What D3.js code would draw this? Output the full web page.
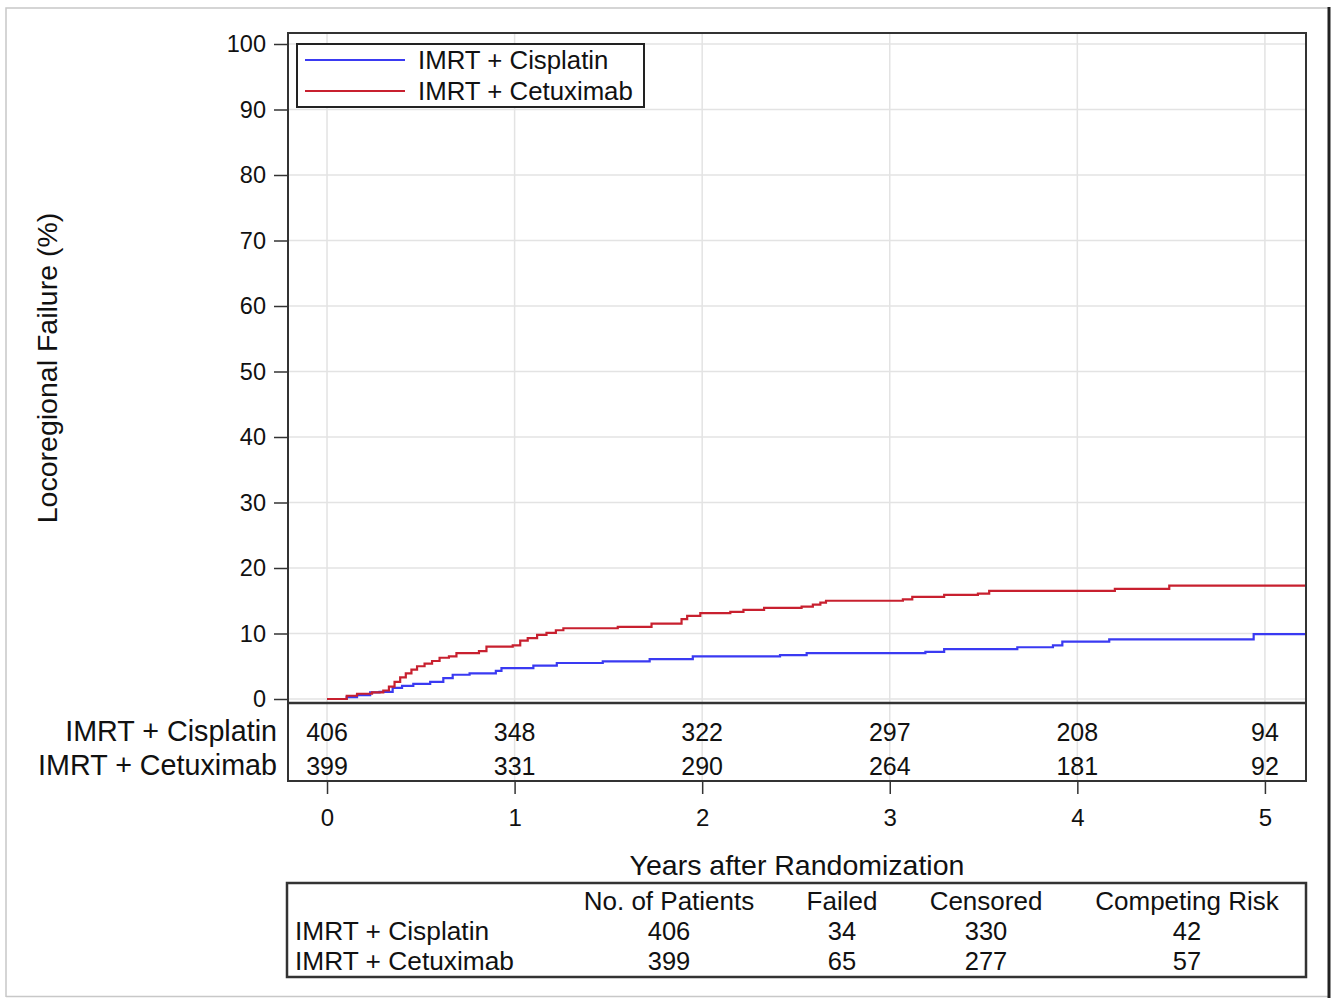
<!DOCTYPE html>
<html>
<head>
<meta charset="utf-8">
<script src="https://cdn.jsdelivr.net/npm/d3@7"></script>
<style>
  body { margin: 0; background: #fff; }
  svg text { font-family: "Liberation Sans", Arial, sans-serif; fill: #111; }
</style>
</head>
<body>
<div id="chart"></div>
<script>
// data
var groups = ["IMRT + Cisplatin", "IMRT + Cetuximab"];
var yearTicks = [0, 1, 2, 3, 4, 5];
var pctTicks = [0, 10, 20, 30, 40, 50, 60, 70, 80, 90, 100];

var cisTimes  = [0, 0.105, 0.16, 0.23, 0.28, 0.35, 0.40, 0.46, 0.55, 0.62, 0.67, 0.76, 0.90, 0.93, 1.10, 1.225, 1.47, 1.72, 1.95, 2.415, 2.557, 3.19, 3.29, 3.68, 3.87, 3.92, 4.17, 4.94, 5.22];
var cisValues = [0, 0.3, 0.6, 1.0, 1.1, 1.7, 2.0, 2.3, 2.6, 3.2, 3.7, 3.9, 4.3, 4.7, 5.1, 5.5, 5.75, 6.1, 6.5, 6.7, 7.0, 7.2, 7.6, 7.9, 8.2, 8.75, 9.1, 9.9, 9.9];

var cetTimes  = [0, 0.105, 0.16, 0.24, 0.30, 0.33, 0.36, 0.39, 0.42, 0.45, 0.48, 0.52, 0.56, 0.60, 0.65, 0.69, 0.81, 0.85, 0.99, 1.03, 1.07, 1.12, 1.17, 1.22, 1.26, 1.55, 1.73, 1.89, 1.92, 1.99, 2.15, 2.22, 2.33, 2.53, 2.59, 2.63, 2.66, 3.07, 3.12, 3.29, 3.47, 3.53, 4.20, 4.49, 5.22];
var cetValues = [0, 0.5, 0.8, 1.0, 1.3, 1.9, 2.6, 3.3, 3.9, 4.5, 5.0, 5.4, 5.8, 6.3, 6.5, 7.0, 7.3, 8.0, 8.2, 8.9, 9.3, 9.8, 10.1, 10.5, 10.8, 11.0, 11.5, 12.2, 12.7, 13.1, 13.3, 13.6, 13.9, 14.1, 14.4, 14.7, 15.0, 15.2, 15.6, 15.9, 16.1, 16.5, 16.8, 17.3, 17.3];

var cisAtRisk = [406, 348, 322, 297, 208, 94];
var cetAtRisk = [399, 331, 290, 264, 181, 92];

var summaryHeader = ["No. of Patients", "Failed", "Censored", "Competing Risk"];
var cisSummary = [406, 34, 330, 42];
var cetSummary = [399, 65, 277, 57];

var colors = ["#3a3af2", "#c8202f"];

var W = 1337, H = 998;
var plot = {left: 288, right: 1306, top: 33, bottom: 703},
    riskBottom = 781;

var svg = d3.select("#chart").append("svg")
    .attr("width", W)
    .attr("height", H);

// outer frame
svg.append("path")
    .attr("d", "M6,997 L6,8 L1328,8")
    .attr("fill", "none")
    .attr("stroke", "#c8c8c8")
    .attr("stroke-width", 1.5);
svg.append("line")
    .attr("x1", 6).attr("x2", 1328).attr("y1", 996.5).attr("y2", 996.5)
    .attr("stroke", "#c8c8c8").attr("stroke-width", 1.5);
svg.append("line")
    .attr("x1", 1329).attr("x2", 1329).attr("y1", 7).attr("y2", 998)
    .attr("stroke", "#222").attr("stroke-width", 3);

var x = d3.scaleLinear()
    .domain([-0.208, 5.219])
    .range([plot.left, plot.right]);

var y = d3.scaleLinear()
    .domain([0, 100])
    .range([699, 44]);

// grid
svg.append("g").selectAll("line")
    .data(pctTicks)
  .enter().append("line")
    .attr("x1", plot.left).attr("x2", plot.right)
    .attr("y1", function(d) { return y(d); })
    .attr("y2", function(d) { return y(d); })
    .attr("stroke", "#e3e3e3")
    .attr("stroke-width", 1.5);

svg.append("g").selectAll("line")
    .data(yearTicks)
  .enter().append("line")
    .attr("x1", function(d) { return x(d); })
    .attr("x2", function(d) { return x(d); })
    .attr("y1", plot.top).attr("y2", riskBottom)
    .attr("stroke", "#e3e3e3")
    .attr("stroke-width", 1.5);

// curves
var line = d3.line()
    .x(function(d) { return x(d[0]); })
    .y(function(d) { return y(d[1]); })
    .curve(d3.curveStepAfter);

var series = [d3.zip(cisTimes, cisValues), d3.zip(cetTimes, cetValues)];

svg.append("g").selectAll("path")
    .data(series)
  .enter().append("path")
    .attr("d", line)
    .attr("fill", "none")
    .attr("stroke", function(d, i) { return colors[i]; })
    .attr("stroke-width", 2.2);

// y axis
var yAxis = d3.axisLeft()
    .scale(y)
    .tickValues(pctTicks)
    .tickSize(14)
    .tickPadding(8);

var gy = svg.append("g")
    .attr("transform", "translate(" + plot.left + ",0)")
    .call(yAxis);
gy.select(".domain").remove();
gy.selectAll("line").attr("stroke", "#333").attr("stroke-width", 1.5);
gy.selectAll("text")
    .style("font-size", "23.5px")
    .style("font-family", "'Liberation Sans', Arial, sans-serif")
    .attr("fill", "#111");

svg.append("text")
    .attr("transform", "translate(57,368) rotate(-90)")
    .attr("text-anchor", "middle")
    .style("font-size", "28.5px")
    .text("Locoregional Failure (%)");

// x axis below risk table
var xAxis = d3.axisBottom()
    .scale(x)
    .tickValues(yearTicks)
    .tickFormat(d3.format("d"))
    .tickSize(13)
    .tickPadding(15);

var gx = svg.append("g")
    .attr("transform", "translate(0," + riskBottom + ")")
    .call(xAxis);
gx.select(".domain").remove();
gx.selectAll("line").attr("stroke", "#333").attr("stroke-width", 1.5);
gx.selectAll("text")
    .style("font-size", "24px")
    .style("font-family", "'Liberation Sans', Arial, sans-serif")
    .attr("fill", "#111");

svg.append("text")
    .attr("x", 797)
    .attr("y", 875)
    .attr("text-anchor", "middle")
    .style("font-size", "28.5px")
    .text("Years after Randomization");

// frame of plot + risk table
svg.append("rect")
    .attr("x", plot.left).attr("y", plot.top)
    .attr("width", plot.right - plot.left)
    .attr("height", riskBottom - plot.top)
    .attr("fill", "none")
    .attr("stroke", "#333")
    .attr("stroke-width", 2);
svg.append("line")
    .attr("x1", plot.left).attr("x2", plot.right)
    .attr("y1", plot.bottom).attr("y2", plot.bottom)
    .attr("stroke", "#333")
    .attr("stroke-width", 2.5);

// at risk numbers
var riskRows = [cisAtRisk, cetAtRisk];
var riskY = [741, 775];

riskRows.forEach(function(row, r) {
  svg.append("text")
      .attr("x", 277)
      .attr("y", riskY[r])
      .attr("text-anchor", "end")
      .style("font-size", "28.7px")
      .text(groups[r]);

  svg.append("g").selectAll("text")
      .data(row)
    .enter().append("text")
      .attr("x", function(d, i) { return x(yearTicks[i]); })
      .attr("y", riskY[r])
      .attr("text-anchor", "middle")
      .style("font-size", "25px")
      .text(function(d) { return d; });
});

// legend
var legend = svg.append("g");
legend.append("rect")
    .attr("x", 297).attr("y", 44)
    .attr("width", 347).attr("height", 63)
    .attr("fill", "#fff")
    .attr("stroke", "#222")
    .attr("stroke-width", 2);

groups.forEach(function(g, i) {
  var ly = 60 + i * 31;
  legend.append("line")
      .attr("x1", 305).attr("x2", 405)
      .attr("y1", ly).attr("y2", ly)
      .attr("stroke", colors[i])
      .attr("stroke-width", 2);
  legend.append("text")
      .attr("x", 418)
      .attr("y", ly)
      .attr("dy", ".35em")
      .style("font-size", "25.8px")
      .text(g);
});

// summary table
var colX = [669, 842, 986, 1187];
var table = svg.append("g");
table.append("rect")
    .attr("x", 287).attr("y", 883)
    .attr("width", 1019).attr("height", 94)
    .attr("fill", "none")
    .attr("stroke", "#333")
    .attr("stroke-width", 2.5);

table.selectAll(".hdr")
    .data(summaryHeader)
  .enter().append("text")
    .attr("class", "hdr")
    .attr("x", function(d, i) { return colX[i]; })
    .attr("y", 910)
    .attr("text-anchor", "middle")
    .style("font-size", "26px")
    .text(function(d) { return d; });

var sumRows = [cisSummary, cetSummary];
var sumY = [940, 970];
sumRows.forEach(function(row, r) {
  table.append("text")
      .attr("x", 295)
      .attr("y", sumY[r])
      .style("font-size", "26.3px")
      .text(groups[r]);
  table.append("g").selectAll("text")
      .data(row)
    .enter().append("text")
      .attr("x", function(d, i) { return colX[i]; })
      .attr("y", sumY[r])
      .attr("text-anchor", "middle")
      .style("font-size", "25.5px")
      .text(function(d) { return d; });
});
</script>
</body>
</html>
